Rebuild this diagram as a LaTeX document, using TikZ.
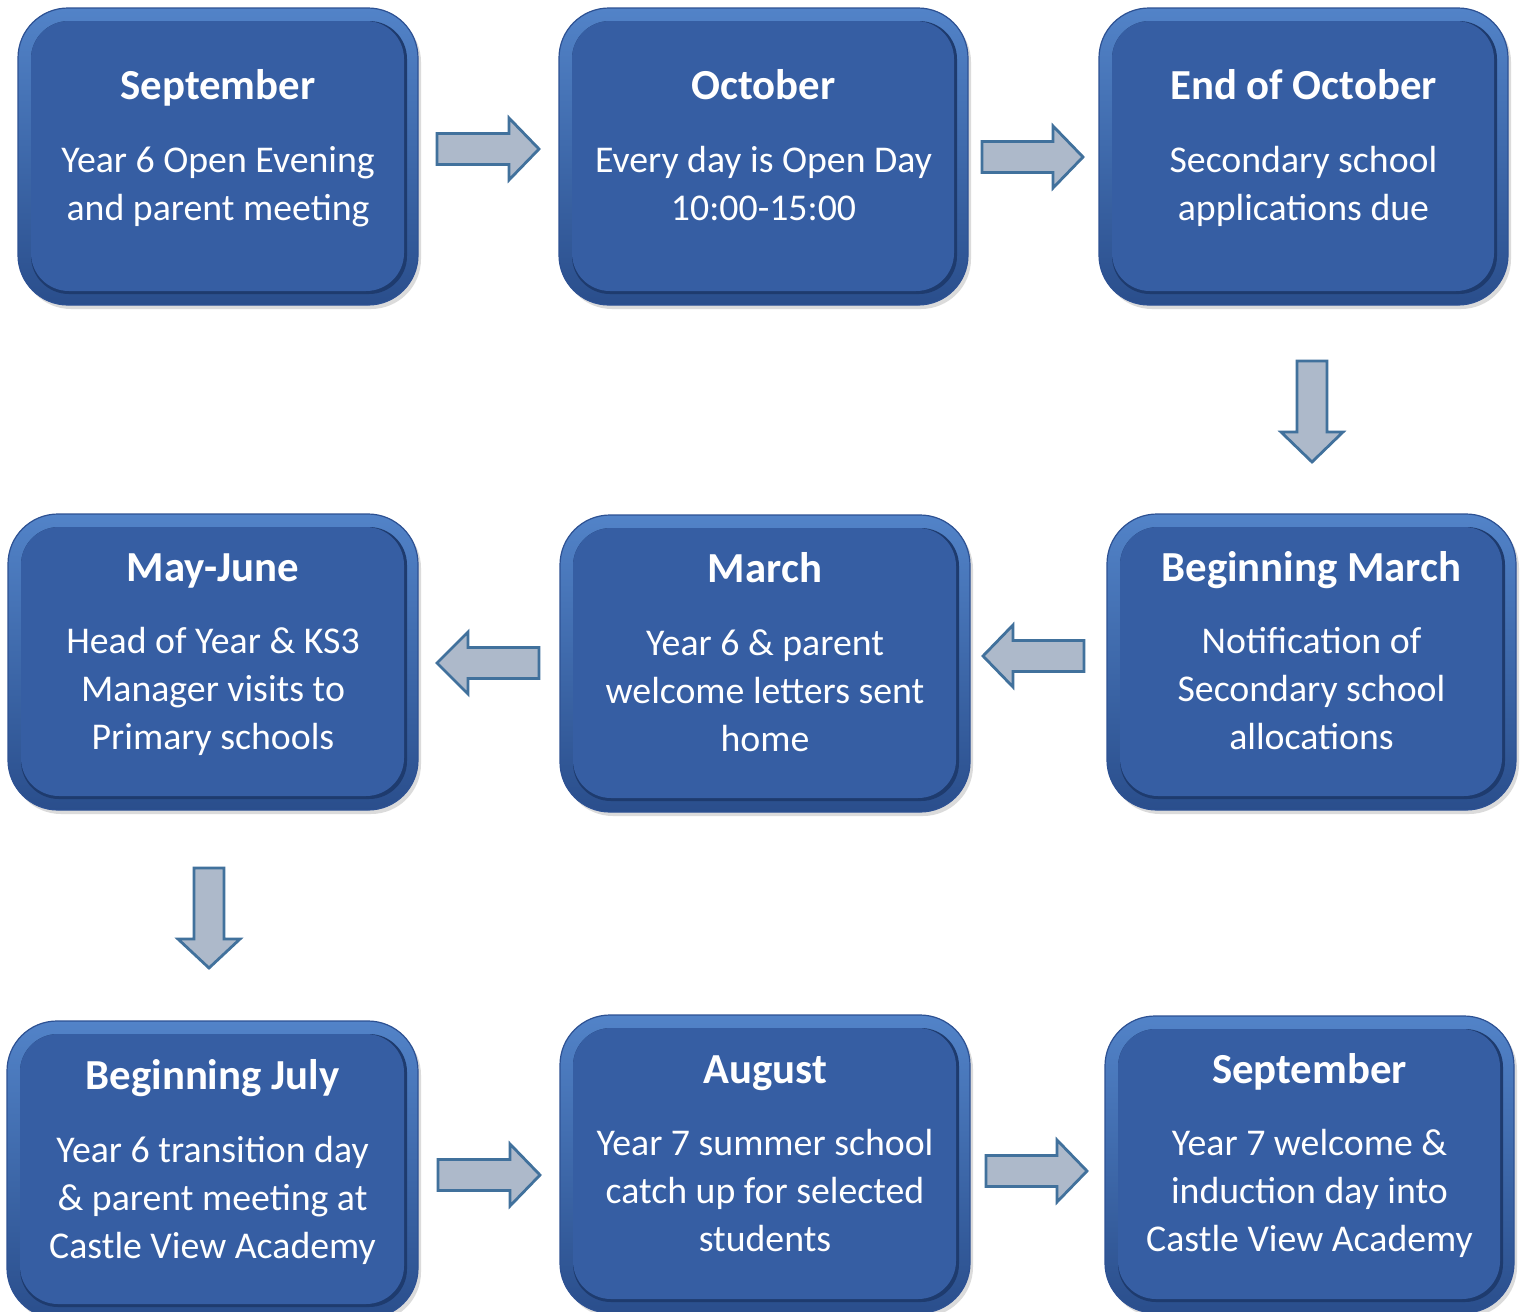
\documentclass[tikz,border=0pt]{standalone}
\usepackage{fontspec}
\setmainfont{Carlito}
\usetikzlibrary{calc}
\definecolor{rimtop}{HTML}{5283C8}
\definecolor{rimbot}{HTML}{2A4E8C}
\definecolor{rimline}{HTML}{2D5193}
\definecolor{facecol}{HTML}{365EA3}
\definecolor{facedark}{HTML}{1E3B6E}
\definecolor{arrfill}{HTML}{ADB9CA}
\definecolor{arrline}{HTML}{41719C}
\tikzset{
  rimbox/.style={rounded corners=25pt, top color=rimtop, bottom color=rimbot, draw=rimline, line width=0.6pt},
  shadowbox/.style={rounded corners=25pt, fill=black, opacity=0.14},
  innerdark/.style={rounded corners=19pt, fill=facedark},
  facebox/.style={rounded corners=19pt, fill=facecol},
  ttl/.style={anchor=base, inner sep=0pt, text=white, font=\fontsize{21.4}{25}\selectfont\bfseries},
  bdy/.style={anchor=north, inner sep=0pt, text=white, align=center, font=\fontsize{18.9}{24}\selectfont},
  blockarr/.style={fill=arrfill, draw=arrline, line width=1.4pt, line join=miter}
}
% #1 name, #2 x1, #3 y1, #4 x2, #5 y2, #6 title, #7 body, #8 title baseline, #9 first body baseline
\newcommand\tbox[9]{%
  \fill[shadowbox] (#2+3,#3+4) rectangle (#4+3,#5+4);
  \path[rimbox] (#2,#3) rectangle (#4,#5);
  \fill[innerdark] (#2+13,#3+13) rectangle (#4-11,#5-11);
  \fill[facebox] (#2+13,#3+13) rectangle (#4-14,#5-14);
  \coordinate (#1) at ({(#2+#4)/2},{(#3+#5)/2});
  \node[ttl] (#1-t) at ({(#2+#4)/2},#8) {#6};
  \node[bdy] (#1-b) at ({(#2+#4)/2},#9-40) {\rule{0pt}{20pt}#7};
}
% horizontal block arrow: #1 tail x, #2 head base x, #3 tip x, #4 y
\newcommand\harr[4]{%
  \draw[blockarr] (#1,#4-15.5) -- (#2,#4-15.5) -- (#2,#4-31) -- (#3,#4) -- (#2,#4+31) -- (#2,#4+15.5) -- (#1,#4+15.5) -- cycle;}
% vertical block arrow: #1 x, #2 tail y, #3 head base y, #4 tip y
\newcommand\varr[4]{%
  \draw[blockarr] (#1-15,#2) -- (#1-15,#3) -- (#1-31,#3) -- (#1,#4) -- (#1+31,#3) -- (#1+15,#3) -- (#1+15,#2) -- cycle;}
\begin{document}
\begin{tikzpicture}[x=0.5pt,y=-0.5pt]
\useasboundingbox (0,0) rectangle (1522,1312);
\fill[white] (0,0) rectangle (1522,1312);

\tbox{b1}{18}{8}{418}{305}{September}{Year 6 Open Evening\\and parent meeting}{99}{172}
\tbox{b2}{559}{8}{968}{305}{October}{Every day is Open Day\\10:00-15:00}{99}{172}
\tbox{b3}{1099}{8}{1508}{305}{End of October}{Secondary school\\applications due}{99}{172}

\tbox{b4}{8}{514}{418}{810}{May-June}{Head of Year \& KS3\\Manager visits to\\Primary schools}{581}{653}
\tbox{b5}{560}{515}{970}{812}{March}{Year 6 \& parent\\welcome letters sent\\home}{582}{655}
\tbox{b6}{1107}{514}{1516}{810}{Beginning March}{Notification of\\Secondary school\\allocations}{581}{653}

\tbox{b7}{7}{1021}{418}{1318}{Beginning July}{Year 6 transition day\\\& parent meeting at\\Castle View Academy}{1089}{1162}
\tbox{b8}{560}{1015}{970}{1313}{August}{Year 7 summer school\\catch up for selected\\students}{1083}{1155}
\tbox{b9}{1105}{1016}{1514}{1313}{September}{Year 7 welcome \&\\induction day into\\Castle View Academy}{1083}{1155}

\harr{437}{509}{539}{149}
\harr{982}{1053}{1083}{157}
\varr{1312}{361}{432}{462}
\harr{1084}{1013}{983}{656}
\harr{539}{468}{437}{663}
\varr{209}{868}{939}{968}
\harr{438}{510}{540}{1175}
\harr{986}{1057}{1087}{1171}
\end{tikzpicture}
\end{document}
